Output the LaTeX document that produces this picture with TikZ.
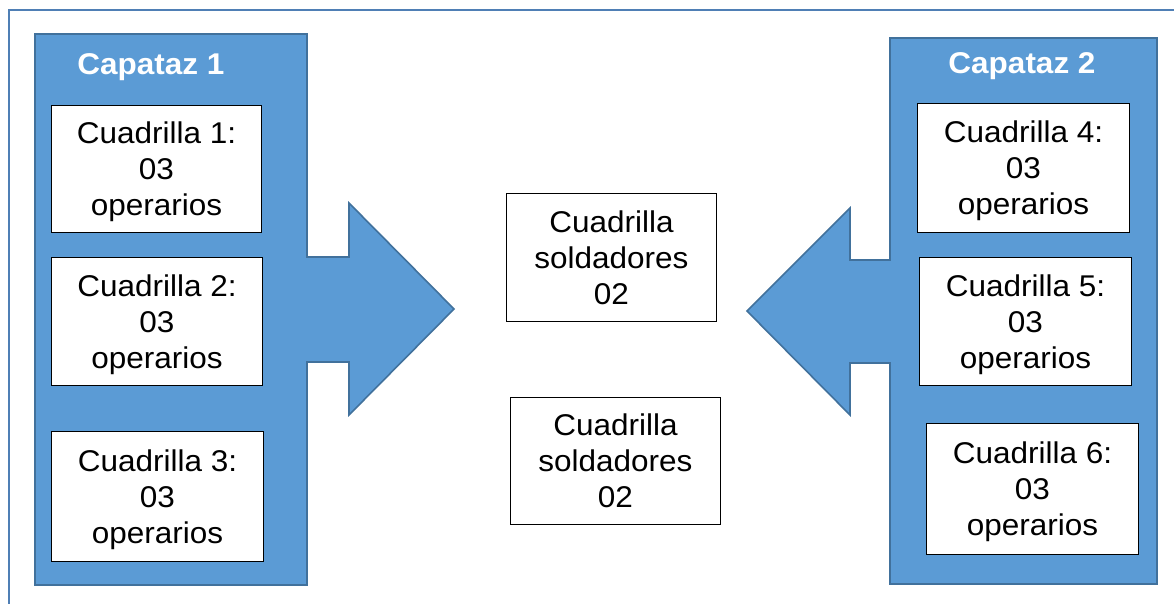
\documentclass[tikz,border=0pt]{standalone}
\usepackage{fontspec}
\setmainfont{Liberation Sans}[FakeStretch=1.05]
\begin{document}
\begin{tikzpicture}[x=1pt,y=-1pt,
  panel/.style={fill=blueFill,draw=blueEdge,line width=1.6pt,line join=miter},
  title/.style={font=\fontsize{30}{36}\selectfont\bfseries,text=white,inner sep=0pt},
  crew/.style={draw=black,line width=0.9pt,fill=white,align=center,inner sep=0pt,
    font=\fontsize{30}{36}\selectfont,text depth=0pt,anchor=north west}]
\definecolor{blueFill}{HTML}{5B9BD5}
\definecolor{blueEdge}{HTML}{41719C}
\definecolor{frameC}{HTML}{4F7FB5}
\useasboundingbox (0,0) rectangle (1174,603);
\begin{scope}
\clip (0,0) rectangle (1174,603);
\draw[frameC,line width=2pt] (9,10) rectangle (1190,620);
\end{scope}
% left panel with arrow
\draw[panel] (35,34) -- (307,34) -- (307,257) -- (349,257) -- (349,203) -- (454,309)
  -- (349,415) -- (349,362) -- (307,362) -- (307,585) -- (35,585) -- cycle;
% right panel with arrow
\draw[panel] (1157,38) -- (890,38) -- (890,260) -- (850,260) -- (850,208) -- (747,311)
  -- (850,415) -- (850,363) -- (890,363) -- (890,584) -- (1157,584) -- cycle;
\node[title] (t1) at (151,67) {Capataz 1};
\node[title] (t2) at (1022,66) {Capataz 2};
% crews left
\node[crew,minimum width=210pt,minimum height=127pt] (c1) at (51,105) {Cuadrilla 1:\\03\\operarios};
\node[crew,minimum width=211pt,minimum height=128pt] (c2) at (51,257) {Cuadrilla 2:\\03\\operarios};
\node[crew,minimum width=212pt,minimum height=130pt] (c3) at (51,431) {Cuadrilla 3:\\03\\operarios};
% crews right
\node[crew,minimum width=212pt,minimum height=129pt] (c4) at (917,103) {Cuadrilla 4:\\03\\operarios};
\node[crew,minimum width=212pt,minimum height=128pt] (c5) at (919,257) {Cuadrilla 5:\\03\\operarios};
\node[crew,minimum width=212pt,minimum height=131pt] (c6) at (926,423) {Cuadrilla 6:\\03\\operarios};
% welders
\node[crew,minimum width=210pt,minimum height=128pt] (s1) at (506,193) {Cuadrilla\\soldadores\\02};
\node[crew,minimum width=210pt,minimum height=127pt] (s2) at (510,397) {Cuadrilla\\soldadores\\02};
\end{tikzpicture}
\end{document}
